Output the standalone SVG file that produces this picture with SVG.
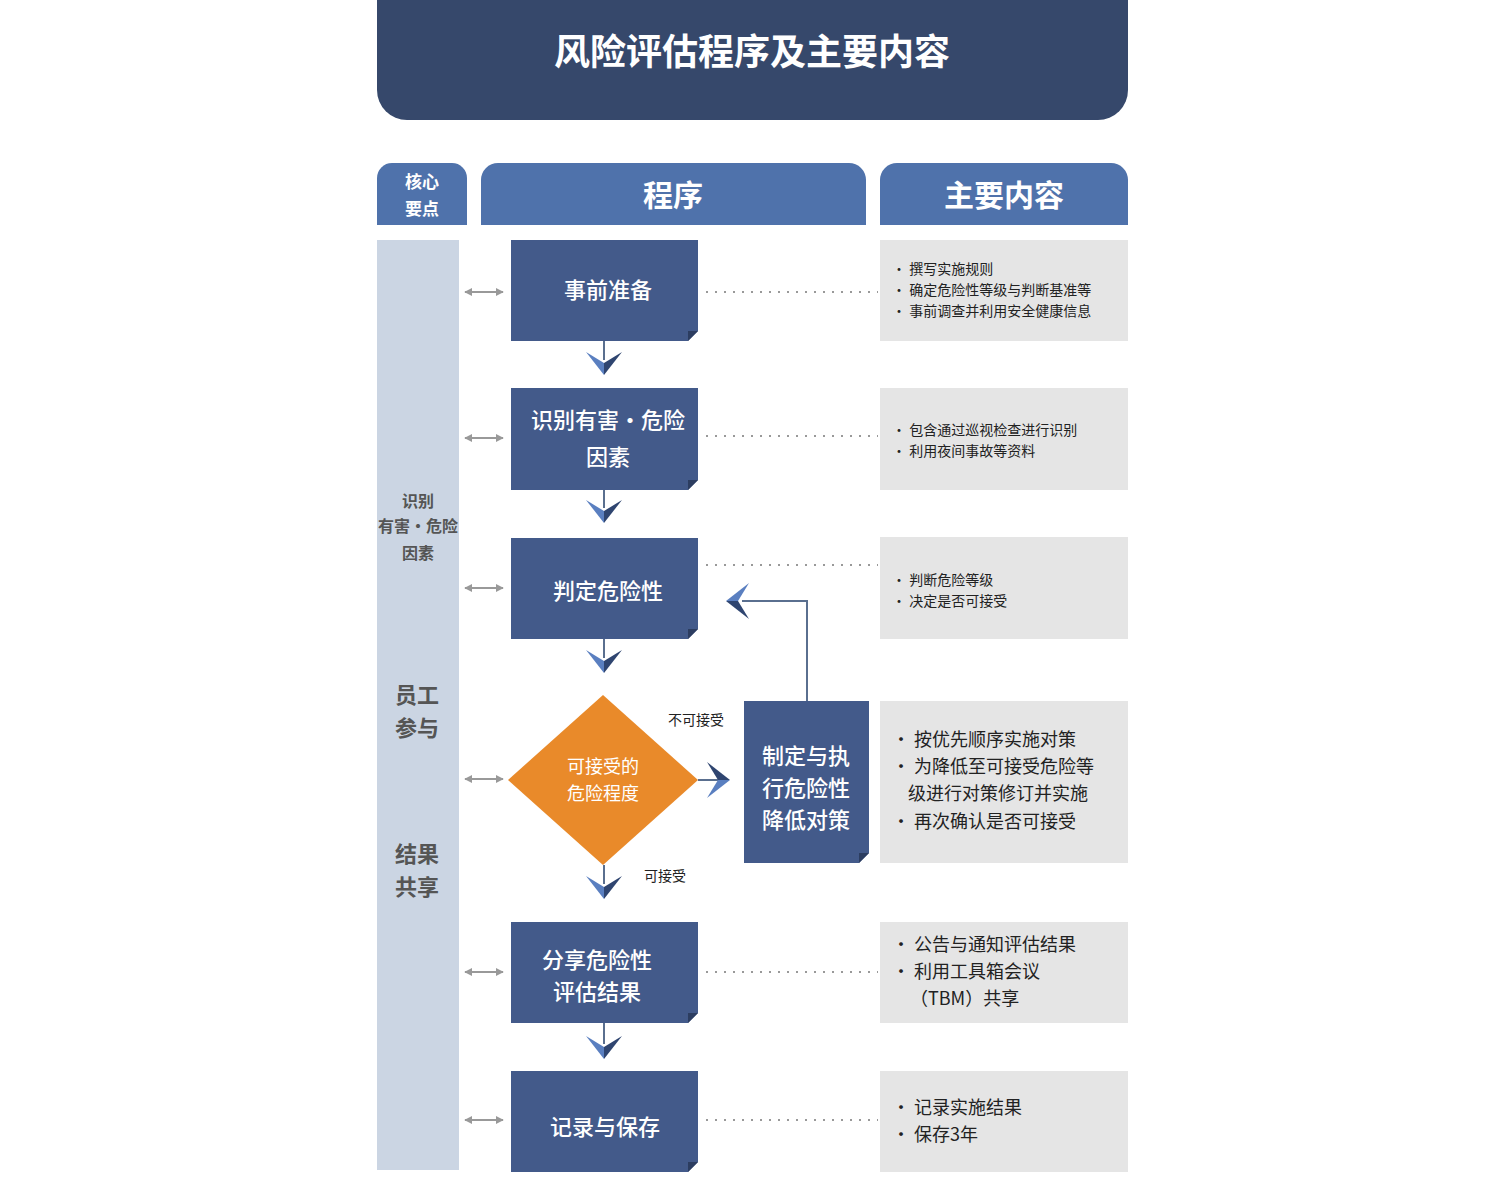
<svg xmlns="http://www.w3.org/2000/svg" width="1507" height="1177" viewBox="0 0 1507 1177">
<style>
text{font-family:"Noto Sans CJK SC","Liberation Sans",sans-serif}
.box{fill:#435a8a}
.fold{fill:#2c3d60}
.bt{fill:#fff;font-size:22px;text-anchor:middle;font-weight:500}
.gray{fill:#e5e5e5}
.li{fill:#222;font-size:14px}
.lb{fill:#222;font-size:18px}
.hd{fill:#4f72ab}
.dot{stroke:#999;stroke-width:2;stroke-dasharray:2 7;fill:none}
.dbl{stroke:#999;stroke-width:2;fill:none}
</style>
<defs>
<g id="dn"><path d="M-18,-12 L0,11 L0,-1 Z" fill="#5a7fc0"/><path d="M18,-12 L0,11 L0,-1 Z" fill="#2f4570"/></g>
<marker id="ga" viewBox="0 0 10 10" refX="9" refY="5" markerWidth="4" markerHeight="4" orient="auto-start-reverse"><path d="M0,0 L10,5 L0,10 Z" fill="#999"/></marker>
</defs>
<rect width="1507" height="1177" fill="#fff"/>
<g id="title"><path d="M377,0 H1128 V90 A30,30 0 0 1 1098,120 H407 A30,30 0 0 1 377,90 Z" fill="#36486b"/>
<text x="752" y="65" fill="#fff" font-size="36" font-weight="bold" text-anchor="middle">风险评估程序及主要内容</text></g>
<g id="headers">
<path d="M377,225 V178 A15,15 0 0 1 392,163 H452 A15,15 0 0 1 467,178 V225 Z" class="hd"/>
<text x="422" y="188" fill="#fff" font-size="17" font-weight="bold" text-anchor="middle">核心</text>
<text x="422" y="215" fill="#fff" font-size="17" font-weight="bold" text-anchor="middle">要点</text>
<path d="M481,225 V180 A17,17 0 0 1 498,163 H849 A17,17 0 0 1 866,180 V225 Z" class="hd"/>
<text x="673" y="206" fill="#fff" font-size="30" font-weight="bold" text-anchor="middle">程序</text>
<path d="M880,225 V180 A17,17 0 0 1 897,163 H1111 A17,17 0 0 1 1128,180 V225 Z" class="hd"/>
<text x="1004" y="206" fill="#fff" font-size="30" font-weight="bold" text-anchor="middle">主要内容</text>
</g>
<g id="leftcol"><rect x="377" y="240" width="82" height="930" fill="#cbd5e3"/>
<g fill="#555" font-weight="bold" text-anchor="middle">
<text x="418" y="507" font-size="16">识别</text><text x="418" y="532" font-size="16">有害·危险</text><text x="418" y="559" font-size="16">因素</text>
<text x="417" y="703" font-size="22">员工</text><text x="417" y="736" font-size="22">参与</text>
<text x="417" y="862" font-size="22">结果</text><text x="417" y="895" font-size="22">共享</text></g></g>
<g id="connectors">
<g class="dbl"><line x1="465" y1="292" x2="503" y2="292" marker-start="url(#ga)" marker-end="url(#ga)"/>
<line x1="465" y1="438" x2="503" y2="438" marker-start="url(#ga)" marker-end="url(#ga)"/>
<line x1="465" y1="588" x2="503" y2="588" marker-start="url(#ga)" marker-end="url(#ga)"/>
<line x1="465" y1="779" x2="503" y2="779" marker-start="url(#ga)" marker-end="url(#ga)"/>
<line x1="465" y1="972" x2="503" y2="972" marker-start="url(#ga)" marker-end="url(#ga)"/>
<line x1="465" y1="1120" x2="503" y2="1120" marker-start="url(#ga)" marker-end="url(#ga)"/></g>
<g class="dot"><line x1="706" y1="292" x2="878" y2="292"/><line x1="706" y1="436" x2="878" y2="436"/><line x1="706" y1="565" x2="878" y2="565"/><line x1="706" y1="972" x2="878" y2="972"/><line x1="706" y1="1120" x2="878" y2="1120"/></g>
<g stroke="#5a6f8f" stroke-width="2" fill="none">
<line x1="604" y1="341" x2="604" y2="360"/><line x1="604" y1="490" x2="604" y2="508"/><line x1="604" y1="639" x2="604" y2="658"/><line x1="604" y1="865" x2="604" y2="884"/><line x1="604" y1="1023" x2="604" y2="1044"/>
<line x1="698" y1="780" x2="718" y2="780"/>
<polyline points="807,701 807,601 742,601"/></g>
<use href="#dn" x="604" y="364"/><use href="#dn" x="604" y="512"/><use href="#dn" x="604" y="662"/><use href="#dn" x="604" y="888"/><use href="#dn" x="604" y="1048"/>
<use href="#dn" transform="translate(719,780) rotate(-90)"/>
<use href="#dn" transform="translate(737,601) rotate(90)"/>
<text x="668" y="725" font-size="14" fill="#222">不可接受</text>
<text x="644" y="881" font-size="14" fill="#222">可接受</text>
</g>
<g id="n1"><path d="M511,240 H698 V331 L688,341 H511 Z" class="box"/><path d="M698,331 L688,341 L688,331 Z" class="fold"/><text x="608" y="298" class="bt">事前准备</text></g>
<g id="n2"><path d="M511,388 H698 V480 L688,490 H511 Z" class="box"/><path d="M698,480 L688,490 L688,480 Z" class="fold"/><text x="608" y="428" class="bt" font-size="18">识别有害·危险</text><text x="608" y="465" class="bt" font-size="18">因素</text></g>
<g id="n3"><path d="M511,538 H698 V629 L688,639 H511 Z" class="box"/><path d="M698,629 L688,639 L688,629 Z" class="fold"/><text x="608" y="599" class="bt">判定危险性</text></g>
<g id="n4"><path d="M603,695 L698,780 L603,865 L508,780 Z" fill="#e98a2a"/><text x="603" y="773" fill="#fff" font-size="18" text-anchor="middle">可接受的</text><text x="603" y="800" fill="#fff" font-size="18" text-anchor="middle">危险程度</text></g>
<g id="n5"><path d="M744,701 H869 V853 L859,863 H744 Z" class="box"/><path d="M869,853 L859,863 L859,853 Z" class="fold"/><text x="806" y="764" class="bt">制定与执</text><text x="806" y="796" class="bt">行危险性</text><text x="806" y="828" class="bt">降低对策</text></g>
<g id="n6"><path d="M511,922 H698 V1013 L688,1023 H511 Z" class="box"/><path d="M698,1013 L688,1023 L688,1013 Z" class="fold"/><text x="597" y="968" class="bt">分享危险性</text><text x="597" y="1000" class="bt">评估结果</text></g>
<g id="n7"><path d="M511,1071 H698 V1162 L688,1172 H511 Z" class="box"/><path d="M698,1162 L688,1172 L688,1162 Z" class="fold"/><text x="605" y="1135" class="bt">记录与保存</text></g>
<g id="c1"><rect x="880" y="240" width="248" height="101" class="gray"/><text class="li" x="892" y="274">•  撰写实施规则</text><text class="li" x="892" y="295">•  确定危险性等级与判断基准等</text><text class="li" x="892" y="316">•  事前调查并利用安全健康信息</text></g>
<g id="c2"><rect x="880" y="388" width="248" height="102" class="gray"/><text class="li" x="892" y="435">•  包含通过巡视检查进行识别</text><text class="li" x="892" y="456">•  利用夜间事故等资料</text></g>
<g id="c3"><rect x="880" y="537" width="248" height="102" class="gray"/><text class="li" x="892" y="585">•  判断危险等级</text><text class="li" x="892" y="606">•  决定是否可接受</text></g>
<g id="c4"><rect x="880" y="701" width="248" height="162" class="gray"/><text class="lb" x="892" y="746">• 按优先顺序实施对策</text><text class="lb" x="892" y="773">• 为降低至可接受危险等</text><text class="lb" x="908" y="800">级进行对策修订并实施</text><text class="lb" x="892" y="828">• 再次确认是否可接受</text></g>
<g id="c5"><rect x="880" y="922" width="248" height="101" class="gray"/><text class="lb" x="892" y="951">• 公告与通知评估结果</text><text class="lb" x="892" y="978">• 利用工具箱会议</text><text class="lb" x="910" y="1005">（TBM）共享</text></g>
<g id="c6"><rect x="880" y="1071" width="248" height="101" class="gray"/><text class="lb" x="892" y="1114">• 记录实施结果</text><text class="lb" x="892" y="1141">• 保存3年</text></g>
</svg>
